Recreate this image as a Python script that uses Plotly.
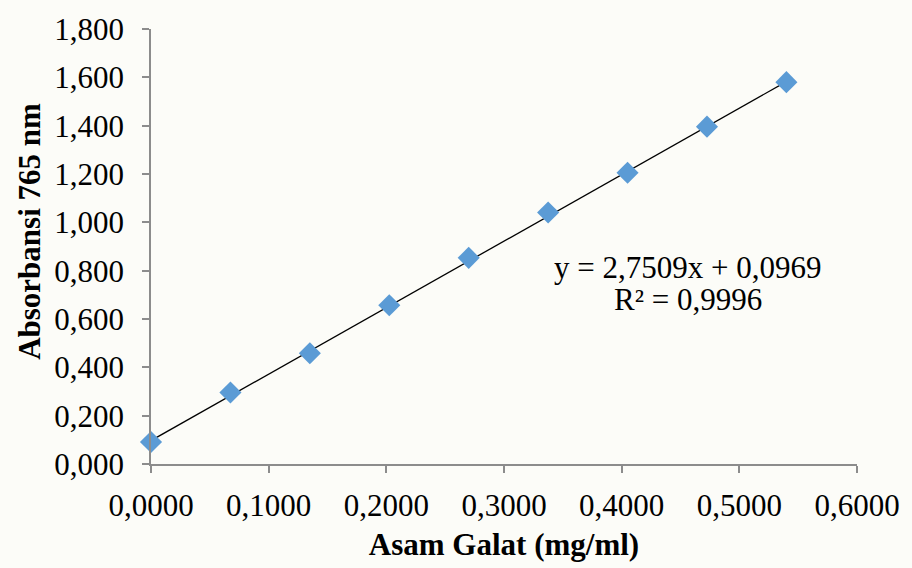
import plotly.graph_objects as go

# Data
konsentrasi = [0.0, 0.0675, 0.135, 0.2025, 0.27, 0.3375, 0.405, 0.4725, 0.54]
absorbansi = [0.091, 0.296, 0.458, 0.657, 0.853, 1.041, 1.205, 1.396, 1.580]
slope = 2.7509
intercept = 0.0969
r2 = 0.9996

x_ticks = [0.0, 0.1, 0.2, 0.3, 0.4, 0.5, 0.6]
y_ticks = [0.0, 0.2, 0.4, 0.6, 0.8, 1.0, 1.2, 1.4, 1.6, 1.8]

x_title = "Asam Galat (mg/ml)"
y_title = "Absorbansi 765 nm"

FONT = "Liberation Serif"
FS = 31

trend_x = [min(konsentrasi), max(konsentrasi)]
trend_y = [slope * v + intercept for v in trend_x]

fig = go.Figure()
fig.add_trace(go.Scatter(
    x=trend_x, y=trend_y, mode="lines",
    line=dict(color="black", width=1.3),
    showlegend=False, hoverinfo="skip",
))
fig.add_trace(go.Scatter(
    x=konsentrasi, y=absorbansi, mode="markers",
    marker=dict(symbol="diamond", size=17, color="#5b9bd5", line=dict(width=0)),
    showlegend=False, cliponaxis=False,
))

def fmt(v, d):
    return f"{v:.{d}f}".replace(".", ",")

fig.add_annotation(x=0.456, y=0.813, xref="x", yref="y",
                   text=f"y = {fmt(slope,4)}x + {fmt(intercept,4)}",
                   showarrow=False, font=dict(family=FONT, size=FS, color="black"),
                   xanchor="center", yanchor="middle")
fig.add_annotation(x=0.456, y=0.681, xref="x", yref="y",
                   text=f"R² = {fmt(r2,4)}",
                   showarrow=False, font=dict(family=FONT, size=FS, color="black"),
                   xanchor="center", yanchor="middle")

# y-axis title placed as an annotation to match the reference offset
fig.add_annotation(x=-0.172, y=0.535, xref="paper", yref="paper",
                   text=f"<b>{y_title}</b>", textangle=-90,
                   showarrow=False, font=dict(family=FONT, size=FS, color="black"),
                   xanchor="center", yanchor="middle")

axis_common = dict(
    showgrid=False, zeroline=False, showline=True,
    linecolor="#8c8c8c", linewidth=1.5,
    ticks="outside", ticklen=7, tickwidth=1.5, tickcolor="#8c8c8c",
    tickfont=dict(family=FONT, size=FS, color="black"),
)

fig.update_xaxes(
    range=[0, 0.6], tickvals=x_ticks,
    ticktext=[fmt(v, 4) for v in x_ticks],
    ticklabelstandoff=6,
    title=dict(text=f"<b>{x_title}</b>", font=dict(family=FONT, size=FS, color="black"), standoff=11),
    **axis_common,
)
fig.update_yaxes(
    range=[0, 1.8], tickvals=y_ticks,
    ticktext=[fmt(v, 3) for v in y_ticks],
    ticklabelstandoff=12,
    **axis_common,
)

fig.update_layout(
    width=912, height=568,
    margin=dict(l=151, r=52, t=25, b=103),
    paper_bgcolor="#fcfcf8",
    plot_bgcolor="#fcfcf8",
    font=dict(family=FONT, size=FS, color="black"),
)

fig.write_html("out.html")
